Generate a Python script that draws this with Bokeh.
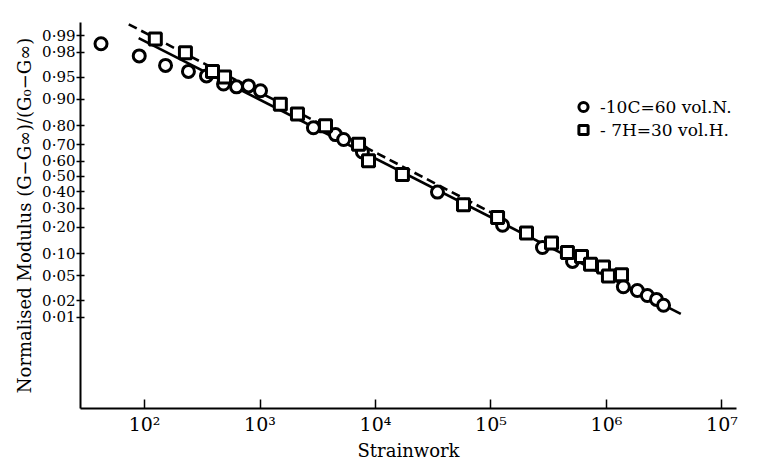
from statistics import NormalDist
from bokeh.plotting import figure
from bokeh.models import FixedTicker, Legend, LegendItem, Range1d, ColumnDataSource
from bokeh.embed import file_html
from bokeh.resources import INLINE

# ---- data ----
circle_strainwork = [42, 90, 152, 240, 344, 483, 626, 795, 1010, 2900, 4500, 5300, 7700,
                     34400, 126000, 279000, 508000, 1.40e6, 1.85e6, 2.26e6, 2.71e6, 3.12e6]
circle_modulus = [0.986, 0.977, 0.967, 0.959, 0.952, 0.937, 0.931, 0.933, 0.922, 0.790, 0.756,
                  0.730, 0.657, 0.398, 0.210, 0.120, 0.080, 0.034, 0.0296, 0.0245, 0.021, 0.0166]

square_strainwork = [124, 226, 388, 493, 1500, 2110, 3690, 7130, 8700, 17100, 57800, 114000,
                     203000, 334000, 459000, 608000, 727000, 942000, 1.04e6, 1.35e6]
square_modulus = [0.9885, 0.9797, 0.959, 0.950, 0.884, 0.849, 0.799, 0.703, 0.602, 0.513, 0.320,
                  0.249, 0.175, 0.136, 0.104, 0.093, 0.073, 0.067, 0.050, 0.052]

fit_solid_x = [89, 4.4e6]
fit_solid_p = [0.989, 0.0115]
fit_dashed_x = [73, 121000]
fit_dashed_p = [0.9941, 0.249]

y_tick_values = [0.99, 0.98, 0.95, 0.90, 0.80, 0.70, 0.60, 0.50, 0.40, 0.30, 0.20, 0.10, 0.05, 0.02, 0.01]
y_tick_labels = ["0·99", "0·98", "0·95", "0·90", "0·80", "0·70", "0·60", "0·50", "0·40",
                 "0·30", "0·20", "0·10", "0·05", "0·02", "0·01"]
x_tick_values = [1e2, 1e3, 1e4, 1e5, 1e6, 1e7]
x_tick_labels = ["10²", "10³", "10⁴", "10⁵", "10⁶", "10⁷"]

legend_labels = ["-10C=60 vol.N.", "- 7H=30 vol.H."]

# probability (probit) scale transform
nd = NormalDist()
def probit(vals):
    return [nd.inv_cdf(v) for v in vals]

FONT = "DejaVu Serif"
INK = "black"

p = figure(width=764, height=463, x_axis_type="log",
           x_range=Range1d(27.9, 1.336e7), y_range=Range1d(-3.839, 2.548),
           output_backend="svg", toolbar_location=None,
           min_border_left=80, min_border_right=28, min_border_top=22, min_border_bottom=45)
p.outline_line_color = None
p.xgrid.visible = False
p.ygrid.visible = False
p.background_fill_color = "white"
p.border_fill_color = "white"

# fit lines
p.line(fit_solid_x, probit(fit_solid_p), line_color=INK, line_width=2.6)
p.line(fit_dashed_x, probit(fit_dashed_p), line_color=INK, line_width=2.6, line_dash="9 5")

src_c = ColumnDataSource(dict(x=circle_strainwork, y=probit(circle_modulus)))
src_s = ColumnDataSource(dict(x=square_strainwork, y=probit(square_modulus)))
r_c = p.scatter("x", "y", source=src_c, marker="circle", size=12, fill_color="white",
                line_color=INK, line_width=3)
r_s = p.scatter("x", "y", source=src_s, marker="square", size=12, fill_color="white",
                line_color=INK, line_width=3)

# axes
xa = p.xaxis[0]
xa.ticker = FixedTicker(ticks=x_tick_values, minor_ticks=[])
xa.major_label_overrides = {v: l for v, l in zip(x_tick_values, x_tick_labels)}
xa.major_tick_in = 9
xa.major_tick_out = 0
xa.minor_tick_line_color = None
xa.axis_line_width = 2
xa.axis_line_color = INK
xa.major_tick_line_width = 1.5
xa.major_tick_line_color = INK
xa.major_label_text_font = FONT
xa.major_label_text_color = INK
xa.major_label_text_font_size = "19px"
xa.major_label_standoff = 4
xa.axis_label = "Strainwork"
xa.axis_label_text_font = FONT
xa.axis_label_text_color = INK
xa.axis_label_text_font_style = "normal"
xa.axis_label_text_font_size = "18px"
xa.axis_label_standoff = 2

ya = p.yaxis[0]
y_ticks = probit(y_tick_values)
ya.ticker = FixedTicker(ticks=y_ticks, minor_ticks=[])
ya.major_label_overrides = {v: l for v, l in zip(y_ticks, y_tick_labels)}
ya.major_tick_in = 4
ya.major_tick_out = 4
ya.minor_tick_line_color = None
ya.axis_line_width = 2
ya.axis_line_color = INK
ya.major_tick_line_width = 1.5
ya.major_tick_line_color = INK
ya.major_label_text_font = FONT
ya.major_label_text_color = INK
ya.major_label_text_font_size = "15px"
ya.major_label_standoff = 1
ya.axis_label = "Normalised Modulus (G−G∞)/(G₀−G∞)"
ya.axis_label_text_font = FONT
ya.axis_label_text_color = INK
ya.axis_label_text_font_style = "normal"
ya.axis_label_text_font_size = "18px"
ya.axis_label_standoff = 4

legend = Legend(items=[LegendItem(label=legend_labels[0], renderers=[r_c]),
                       LegendItem(label=legend_labels[1], renderers=[r_s])],
                location=(490, 267))
legend.border_line_color = None
legend.background_fill_alpha = 0
legend.padding = 0
legend.margin = 0
legend.spacing = 0
legend.glyph_width = 26
legend.glyph_height = 23
legend.label_height = 23
legend.label_standoff = 4
legend.label_text_font = FONT
legend.label_text_color = INK
legend.label_text_font_size = "17px"
p.add_layout(legend)

open("out.html", "w").write(file_html(p, INLINE))
